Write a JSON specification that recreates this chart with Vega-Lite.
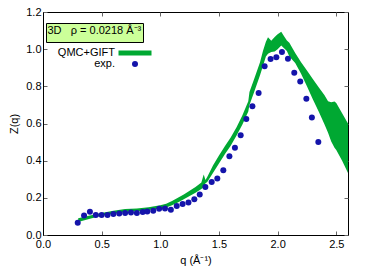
{
  "$schema": "https://vega.github.io/schema/vega-lite/v6.json",
  "width": 305,
  "height": 223,
  "autosize": "none",
  "padding": {"left": 43, "top": 12, "right": 42, "bottom": 42},
  "background": "#ffffff",
  "config": {
    "font": "Liberation Sans",
    "view": {"stroke": "#000000", "strokeWidth": 1},
    "axis": {
      "grid": false,
      "labelFont": "Liberation Sans",
      "labelFontSize": 11,
      "labelColor": "#000000",
      "labelFlush": false,
      "titleFont": "Liberation Sans",
      "titleFontSize": 11,
      "titleFontWeight": "normal",
      "titleColor": "#000000",
      "domainColor": "#000000",
      "tickColor": "#666666",
      "tickSize": -4,
      "labelPadding": 6
    }
  },
  "datasets": {
    "band": [
      {"q": 0.30, "lo": 0.070, "hi": 0.090},
      {"q": 0.40, "lo": 0.088, "hi": 0.105},
      {"q": 0.50, "lo": 0.103, "hi": 0.118},
      {"q": 0.60, "lo": 0.114, "hi": 0.130},
      {"q": 0.70, "lo": 0.124, "hi": 0.140},
      {"q": 0.80, "lo": 0.128, "hi": 0.143},
      {"q": 0.90, "lo": 0.134, "hi": 0.150},
      {"q": 1.00, "lo": 0.142, "hi": 0.160},
      {"q": 1.05, "lo": 0.148, "hi": 0.168},
      {"q": 1.10, "lo": 0.160, "hi": 0.183},
      {"q": 1.15, "lo": 0.175, "hi": 0.200},
      {"q": 1.20, "lo": 0.192, "hi": 0.218},
      {"q": 1.25, "lo": 0.210, "hi": 0.238},
      {"q": 1.30, "lo": 0.228, "hi": 0.258},
      {"q": 1.35, "lo": 0.248, "hi": 0.282},
      {"q": 1.37, "lo": 0.258, "hi": 0.325},
      {"q": 1.385, "lo": 0.278, "hi": 0.296},
      {"q": 1.40, "lo": 0.285, "hi": 0.312},
      {"q": 1.45, "lo": 0.335, "hi": 0.375},
      {"q": 1.50, "lo": 0.385, "hi": 0.428},
      {"q": 1.55, "lo": 0.435, "hi": 0.478},
      {"q": 1.60, "lo": 0.480, "hi": 0.525},
      {"q": 1.65, "lo": 0.535, "hi": 0.580},
      {"q": 1.70, "lo": 0.595, "hi": 0.645},
      {"q": 1.75, "lo": 0.665, "hi": 0.720},
      {"q": 1.76, "lo": 0.700, "hi": 0.770},
      {"q": 1.80, "lo": 0.770, "hi": 0.840},
      {"q": 1.85, "lo": 0.860, "hi": 0.930},
      {"q": 1.875, "lo": 0.910, "hi": 0.990},
      {"q": 1.90, "lo": 0.960, "hi": 1.040},
      {"q": 1.918, "lo": 0.975, "hi": 1.064},
      {"q": 1.946, "lo": 0.985, "hi": 1.045},
      {"q": 1.975, "lo": 0.988, "hi": 1.065},
      {"q": 2.00, "lo": 1.000, "hi": 1.080},
      {"q": 2.031, "lo": 1.020, "hi": 1.094},
      {"q": 2.055, "lo": 1.005, "hi": 1.070},
      {"q": 2.079, "lo": 0.990, "hi": 1.046},
      {"q": 2.10, "lo": 0.960, "hi": 1.035},
      {"q": 2.15, "lo": 0.925, "hi": 0.980},
      {"q": 2.20, "lo": 0.868, "hi": 0.930},
      {"q": 2.25, "lo": 0.800, "hi": 0.885},
      {"q": 2.30, "lo": 0.730, "hi": 0.840},
      {"q": 2.35, "lo": 0.665, "hi": 0.795},
      {"q": 2.40, "lo": 0.595, "hi": 0.752},
      {"q": 2.43, "lo": 0.550, "hi": 0.720},
      {"q": 2.457, "lo": 0.503, "hi": 0.714},
      {"q": 2.485, "lo": 0.470, "hi": 0.718},
      {"q": 2.50, "lo": 0.458, "hi": 0.710},
      {"q": 2.55, "lo": 0.400, "hi": 0.655},
      {"q": 2.60, "lo": 0.333, "hi": 0.600}
    ],
    "exp": [
      {"q": 0.296, "z": 0.066},
      {"q": 0.350, "z": 0.105},
      {"q": 0.400, "z": 0.125},
      {"q": 0.450, "z": 0.107},
      {"q": 0.500, "z": 0.107},
      {"q": 0.550, "z": 0.107},
      {"q": 0.600, "z": 0.113},
      {"q": 0.650, "z": 0.116},
      {"q": 0.700, "z": 0.118},
      {"q": 0.750, "z": 0.121},
      {"q": 0.800, "z": 0.118},
      {"q": 0.850, "z": 0.124},
      {"q": 0.889, "z": 0.127},
      {"q": 0.940, "z": 0.131},
      {"q": 0.990, "z": 0.141},
      {"q": 1.040, "z": 0.143},
      {"q": 1.090, "z": 0.136},
      {"q": 1.140, "z": 0.156},
      {"q": 1.190, "z": 0.167},
      {"q": 1.240, "z": 0.175},
      {"q": 1.290, "z": 0.193},
      {"q": 1.336, "z": 0.218},
      {"q": 1.384, "z": 0.258},
      {"q": 1.438, "z": 0.285},
      {"q": 1.486, "z": 0.304},
      {"q": 1.537, "z": 0.349},
      {"q": 1.589, "z": 0.424},
      {"q": 1.636, "z": 0.469},
      {"q": 1.685, "z": 0.537},
      {"q": 1.733, "z": 0.624},
      {"q": 1.785, "z": 0.693},
      {"q": 1.838, "z": 0.764},
      {"q": 1.889, "z": 0.908},
      {"q": 1.940, "z": 0.947},
      {"q": 1.989, "z": 0.956},
      {"q": 2.037, "z": 0.985},
      {"q": 2.088, "z": 0.949},
      {"q": 2.142, "z": 0.873},
      {"q": 2.193, "z": 0.826},
      {"q": 2.245, "z": 0.733},
      {"q": 2.292, "z": 0.632},
      {"q": 2.347, "z": 0.500}
    ]
  },
  "layer": [
    {
      "data": {"name": "band"},
      "mark": {"type": "area", "opacity": 1, "clip": true},
      "encoding": {
        "x": {
          "field": "q", "type": "quantitative",
          "scale": {"domain": [0, 2.6], "nice": false, "zero": false},
          "axis": {"orient": "bottom", "values": [0, 0.5, 1, 1.5, 2, 2.5], "format": ".1f", "title": "q (Å⁻¹)", "titlePadding": 5, "titleFontWeight": "normal", "labelFlush": false, "labelPadding": 7}
        },
        "y": {
          "field": "lo", "type": "quantitative",
          "scale": {"domain": [0, 1.2], "nice": false},
          "axis": {"orient": "left", "values": [0, 0.2, 0.4, 0.6, 0.8, 1.0, 1.2], "format": ".1f", "title": "Z(q)", "titlePadding": 6, "titleFontWeight": "normal", "labelFlush": false}
        },
        "y2": {"field": "hi"},
        "color": {
          "datum": "QMC+GIFT",
          "type": "nominal",
          "scale": {"domain": ["QMC+GIFT", "exp."], "range": ["#00a832", "#1414aa"]},
          "legend": {
            "title": null, "orient": "none", "legendX": 86.5, "legendY": 35.5, "padding": 0,
            "labelAlign": "right", "labelOffset": -25.5, "labelFontSize": 11, "labelFont": "Liberation Sans",
            "labelColor": "#000000", "symbolSize": 36, "symbolStrokeWidth": 0, "symbolOpacity": 1, "rowPadding": -2
          }
        }
      }
    },
    {
      "data": {"name": "exp"},
      "mark": {"type": "point", "filled": true, "opacity": 1, "size": 36, "strokeWidth": 0},
      "encoding": {
        "x": {"field": "q", "type": "quantitative", "axis": null},
        "y": {"field": "z", "type": "quantitative", "axis": null},
        "color": {
          "datum": "exp.",
          "type": "nominal",
          "legend": {
            "title": null, "orient": "none", "legendX": 86.5, "legendY": 35.5, "padding": 0,
            "labelAlign": "right", "labelOffset": -25.5, "labelFontSize": 11, "labelFont": "Liberation Sans",
            "labelColor": "#000000", "symbolSize": 36, "symbolStrokeWidth": 0, "symbolOpacity": 1, "rowPadding": -2
          }
        },
        "shape": {
          "datum": "exp.",
          "type": "nominal",
          "scale": {"domain": ["QMC+GIFT", "exp."], "range": ["M-5.5,-0.85H5.5V0.85H-5.5Z", "circle"]},
          "legend": {
            "title": null, "orient": "none", "legendX": 86.5, "legendY": 35.5, "padding": 0,
            "labelAlign": "right", "labelOffset": -25.5, "labelFontSize": 11, "labelFont": "Liberation Sans",
            "labelColor": "#000000", "symbolSize": 36, "symbolStrokeWidth": 0, "symbolOpacity": 1, "rowPadding": -2
          }
        }
      }
    },
    {
      "data": {"name": "exp"},
      "mark": {"type": "line", "opacity": 0},
      "encoding": {
        "x": {"field": "q", "type": "quantitative", "axis": {"orient": "top", "values": [0, 0.5, 1, 1.5, 2, 2.5], "labels": false, "title": null, "domain": false}},
        "y": {"field": "z", "type": "quantitative", "axis": {"orient": "right", "values": [0, 0.2, 0.4, 0.6, 0.8, 1.0, 1.2], "labels": false, "title": null, "domain": false}},
        "strokeDash": {
          "datum": "box",
          "type": "nominal",
          "legend": {
            "title": "3D\u00a0\u00a0\u00a0ρ = 0.0218 Å⁻³", "orient": "none", "legendX": 3, "legendY": 11,
            "fillColor": "#ccff99", "strokeColor": "#000000", "padding": 1.5,
            "labelExpr": "''", "labelFontSize": 0, "symbolSize": 0, "symbolOpacity": 0, "symbolStrokeWidth": 0, "rowPadding": 0,
            "titleFont": "Liberation Sans", "titleFontSize": 11, "titleFontWeight": "normal", "titleColor": "#000000", "titlePadding": 0
          }
        }
      }
    }
  ],
  "resolve": {"axis": {"x": "independent", "y": "independent"}}
}
